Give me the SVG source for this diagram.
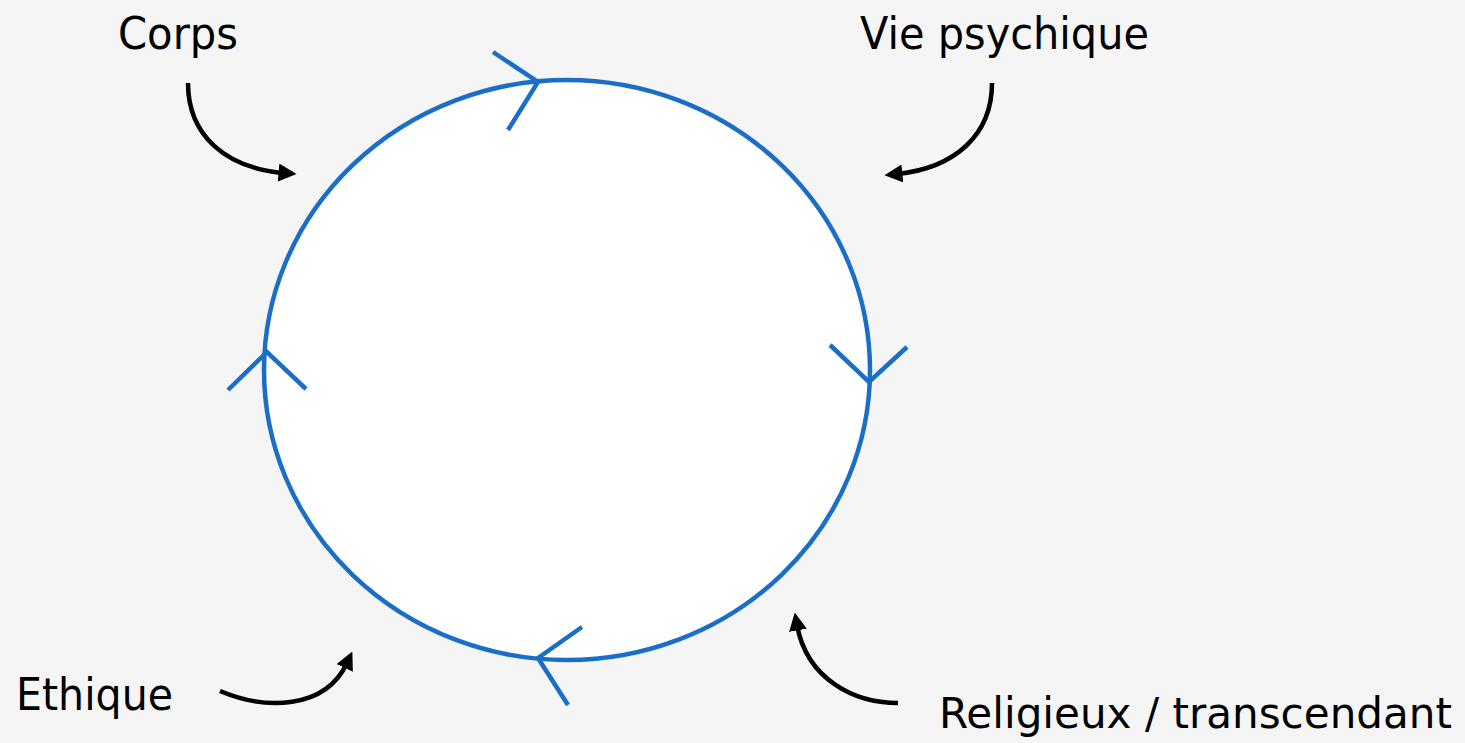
<svg xmlns="http://www.w3.org/2000/svg" width="1465" height="743" viewBox="0 0 1465 743">
<defs>
<style>
.lbl{font-family:"DejaVu Sans","Liberation Sans",sans-serif;font-size:45px;fill:#000}
.cyc{fill:none;stroke:#1a6ec8;stroke-width:4.5;stroke-linecap:butt}
.ring{fill:#fff;stroke:#1a6ec8;stroke-width:4.5}
.arr{fill:none;stroke:#000;stroke-width:4.5;marker-end:url(#ah)}
</style>
<marker id="ah" viewBox="0 0 10 10" refX="3" refY="5" markerWidth="4" markerHeight="4" orient="auto" markerUnits="strokeWidth">
<path d="M0,0 L10,5 L0,10 Z" fill="#000"/>
</marker>
</defs>
<rect width="1465" height="743" fill="#f5f5f5"/>
<g id="cycle">
<ellipse class="ring" cx="567" cy="370" rx="303" ry="290"/>
<path class="cyc" d="M493,52 L538,82 L508,130"/>
<path class="cyc" d="M830,345 L869,382 L907,347"/>
<path class="cyc" d="M582,627 L538,658 L568,705"/>
<path class="cyc" d="M228,390 L267,352 L306,389"/>
</g>
<g id="corps"><text class="lbl" x="118" y="49" textLength="120" lengthAdjust="spacingAndGlyphs">Corps</text></g>
<g id="vie-psychique"><text class="lbl" x="860" y="49" textLength="289" lengthAdjust="spacingAndGlyphs">Vie psychique</text></g>
<g id="ethique"><text class="lbl" x="16" y="710" textLength="157" lengthAdjust="spacingAndGlyphs">Ethique</text></g>
<g id="religieux"><text class="lbl" x="939" y="728" textLength="513" lengthAdjust="spacingAndGlyphs" style="font-size:43px">Religieux / transcendant</text></g>
<g id="connectors">
<path class="arr" d="M188,83 C188,135 225,168 284,173"/>
<path class="arr" d="M992,83 C992,135 955,168 897,174"/>
<path class="arr" d="M220,691 C265,710 325,710 347,663"/>
<path class="arr" d="M898,703 C855,703 807,680 797,625"/>
</g>
</svg>
